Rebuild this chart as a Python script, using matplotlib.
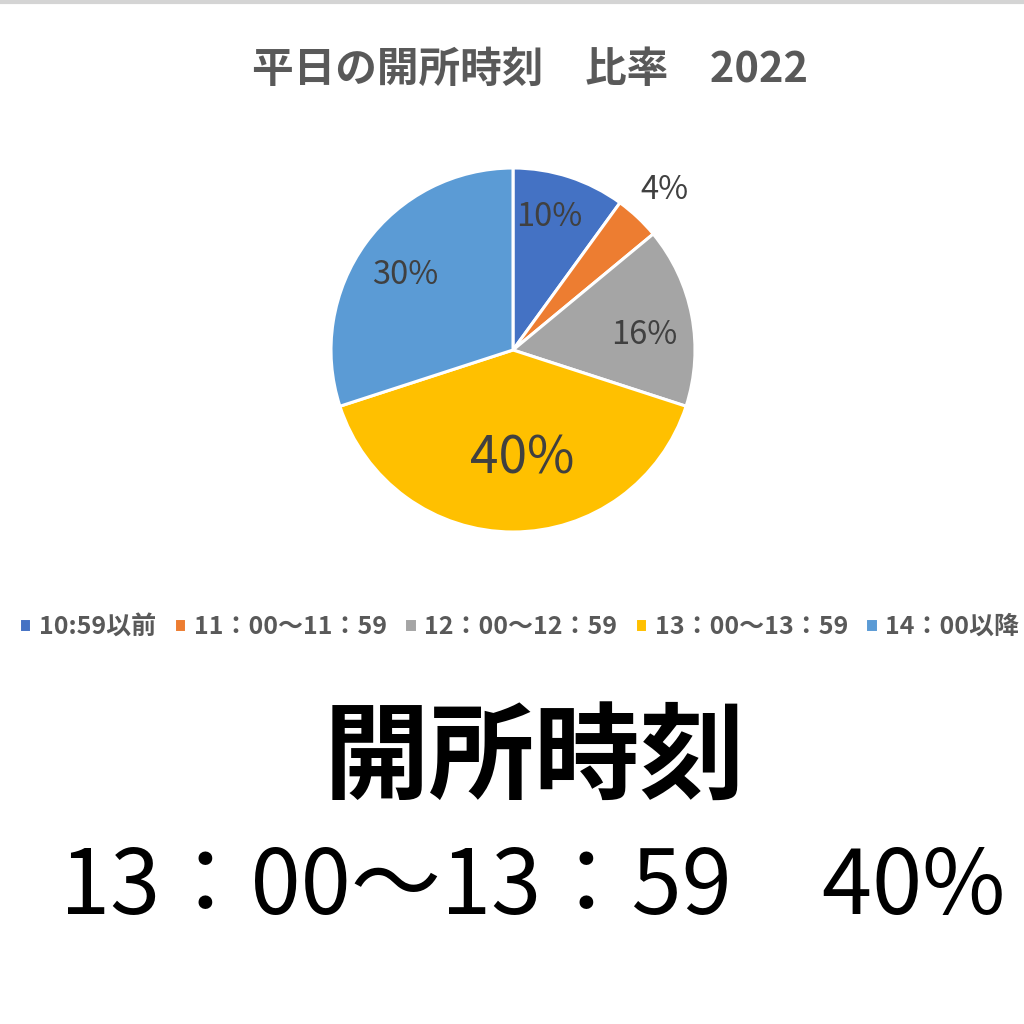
import matplotlib.pyplot as plt
from matplotlib.lines import Line2D

plt.rcParams['font.family'] = ['Noto Sans CJK JP', 'DejaVu Sans']

# データ
categories = ['10:59以前', '11：00～11：59', '12：00～12：59', '13：00～13：59', '14：00以降']
shares = [10, 4, 16, 40, 30]
colors = ['#4472C4', '#ED7D31', '#A5A5A5', '#FFC000', '#5B9BD5']
title = '平日の開所時刻　比率　2022'
headline = '開所時刻'
summary = '13：00～13：59　40%'

# ラベル位置 (半径単位) と文字サイズ
label_pos = [(0.20, 0.73), (0.83, 0.88), (0.72, 0.08), (0.05, -0.60), (-0.59, 0.41)]
label_size = [23.5, 23.5, 23.5, 37, 23.5]

fig = plt.figure(figsize=(10.24, 10.24), dpi=100)

# 上端の薄いグレーの線
fig.add_artist(Line2D([0, 1], [0.9985, 0.9985], color='#d4d4d4', lw=3))

fig.text(0.518, 0.932, title, ha='center', va='center', fontsize=30,
         fontweight='bold', color='#595959')

ax = fig.add_axes([(513 - 182) / 1024, (1024 - 532) / 1024, 364 / 1024, 364 / 1024])
wedges, _ = ax.pie(shares, colors=colors, startangle=90, counterclock=False,
                   radius=1, wedgeprops=dict(edgecolor='white', linewidth=2.2))
ax.set_xlim(-1, 1)
ax.set_ylim(-1, 1)
ax.set_aspect('equal')
ax.axis('off')

for s, (x, y), fs in zip(shares, label_pos, label_size):
    ax.text(x, y, f'{s}%', ha='center', va='center', fontsize=fs, color='#404040')

fig.legend(wedges, categories, loc='center', bbox_to_anchor=(0.507, 0.388), ncol=5,
           frameon=False, handlelength=0.5, handleheight=0.5,
           handletextpad=0.3, columnspacing=0.7,
           prop={'weight': 'bold', 'size': 18})
for t in fig.legends[0].get_texts():
    t.set_color('#595959')

fig.text(0.522, 0.258, headline, ha='center', va='center', fontsize=76,
         fontweight='bold', color='black')
fig.text(0.520, 0.132, summary, ha='center', va='center', fontsize=65,
         color='black')

fig.savefig('out.png', dpi=100, facecolor='white')
